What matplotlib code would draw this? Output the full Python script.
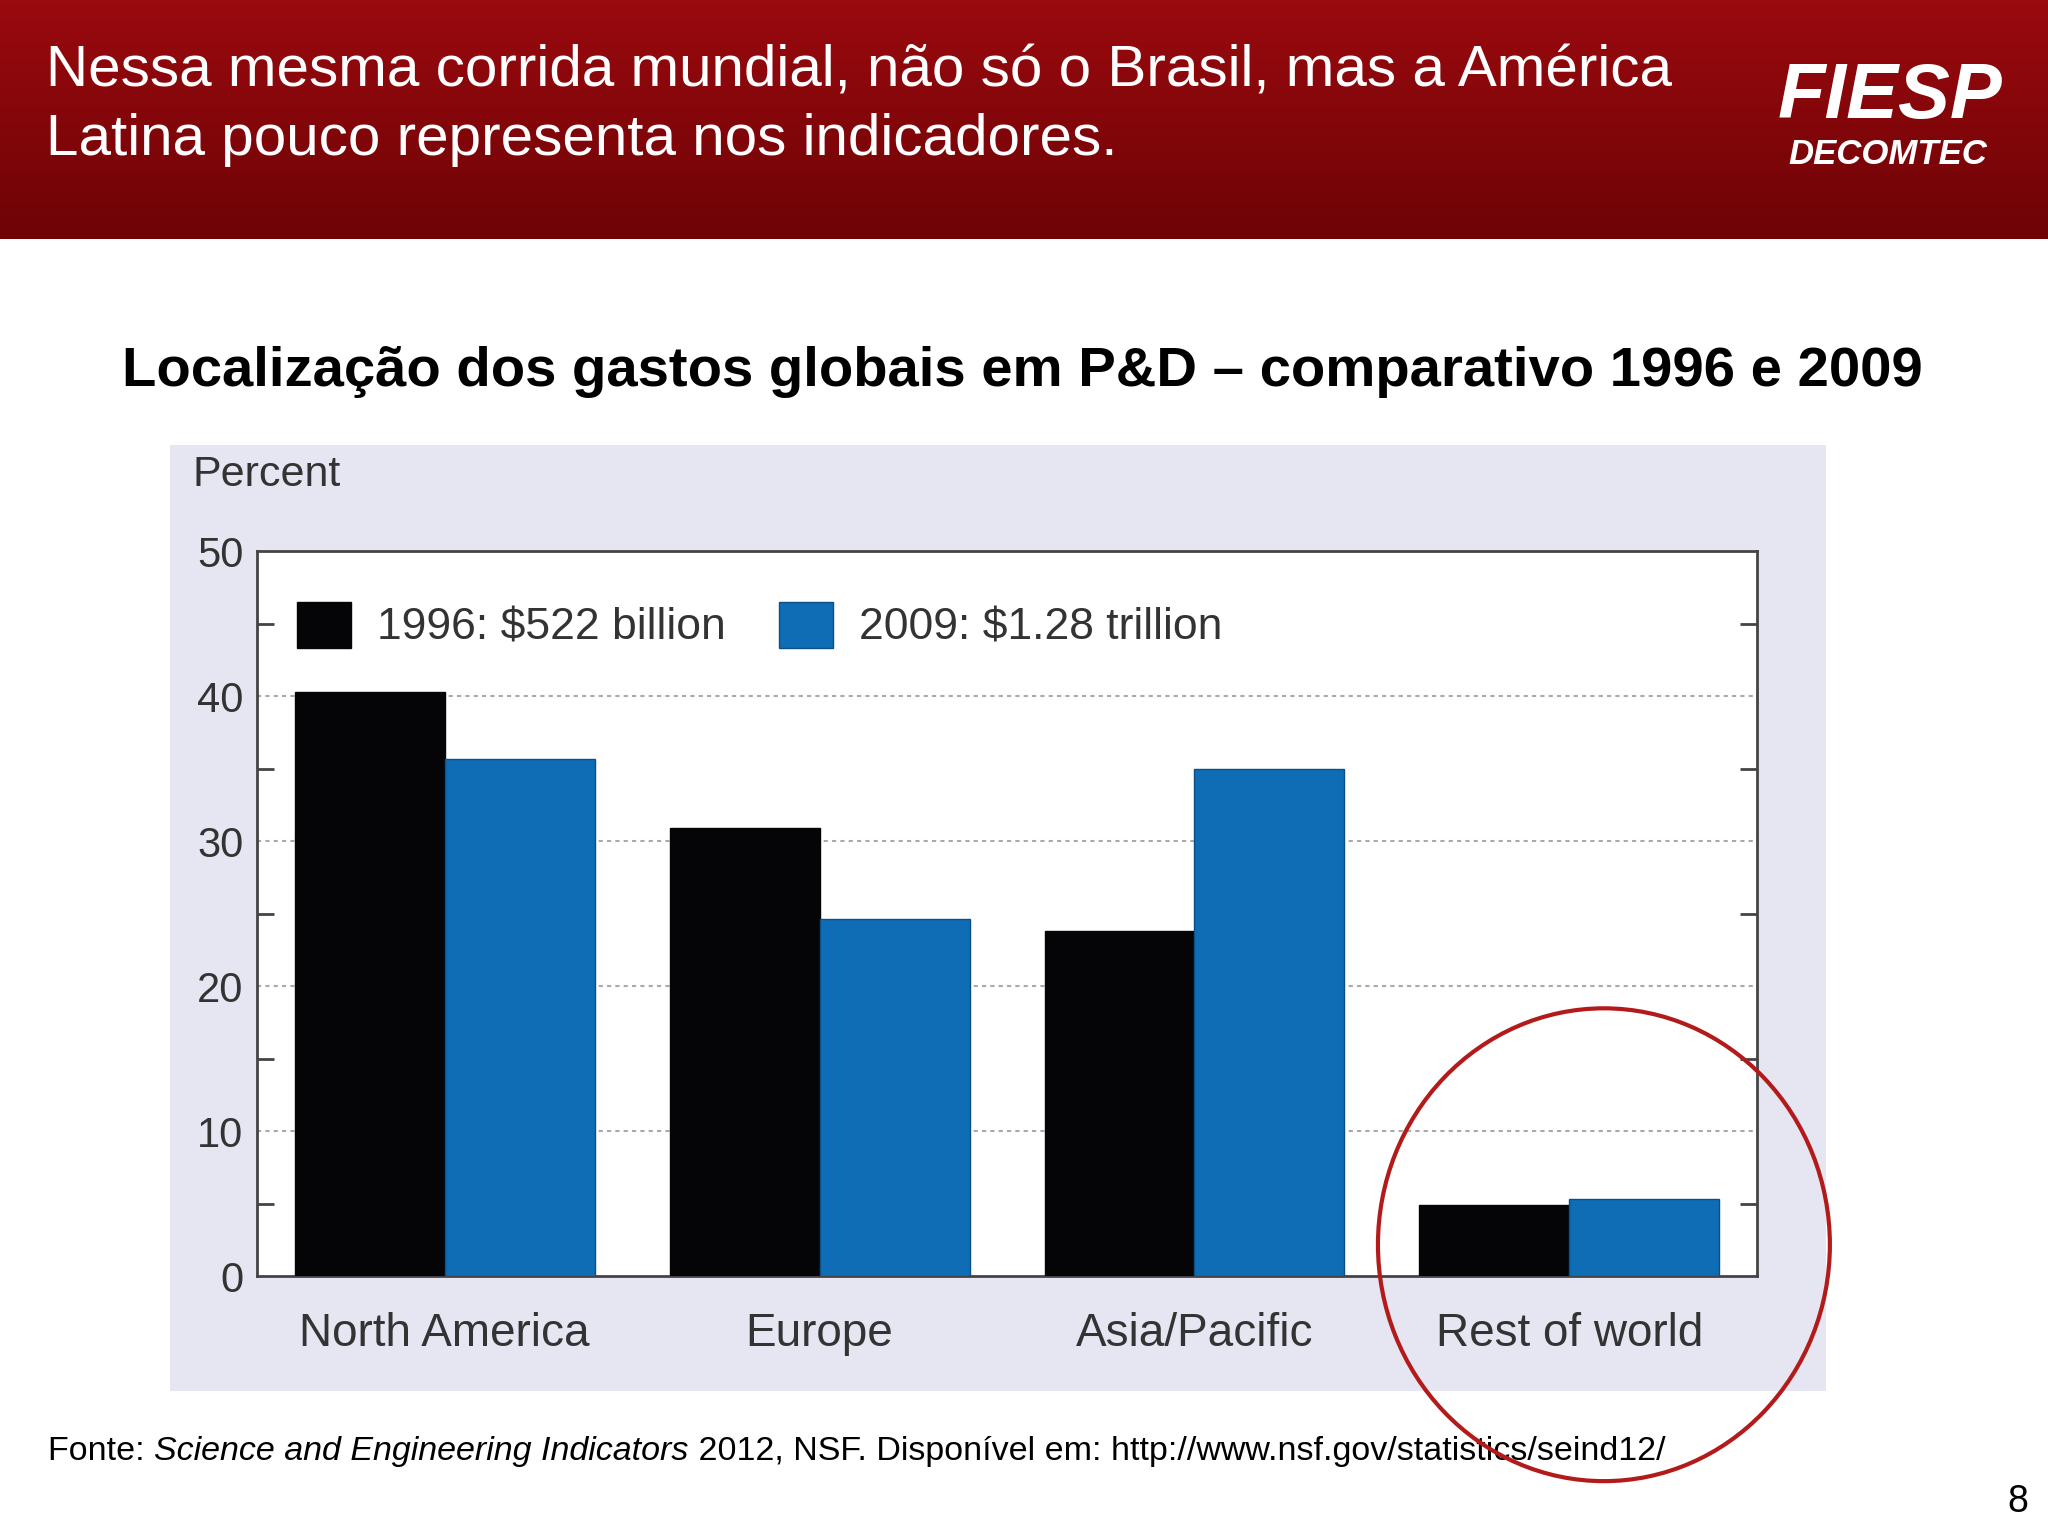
import matplotlib
matplotlib.use("Agg")
import matplotlib.pyplot as plt
import numpy as np
from matplotlib.patches import Ellipse
from matplotlib.colors import LinearSegmentedColormap
from matplotlib.offsetbox import TextArea, HPacker, AnchoredOffsetbox

plt.rcParams['font.family'] = ['Liberation Sans', 'DejaVu Sans']

categories = ["North America", "Europe", "Asia/Pacific", "Rest of world"]
v1996 = [40.3, 30.9, 23.8, 4.9]
v2009 = [35.7, 24.6, 35.0, 5.3]
label1996 = "1996: $522 billion"
label2009 = "2009: $1.28 trillion"

W, H = 1568, 1176
fig = plt.figure(figsize=(20.48, 15.36), dpi=100)
fig.patch.set_facecolor("white")

def fx(x): return x / W
def fy(y): return 1 - y / H

hdr = fig.add_axes([0, fy(183), 1, 183 / H], zorder=0)
grad = np.linspace(0, 1, 256).reshape(-1, 1)
cm = LinearSegmentedColormap.from_list("r", ["#9a0a0e", "#6e0306"])
hdr.imshow(grad, aspect="auto", cmap=cm, extent=[0, 1, 0, 1])
hdr.axis("off")
fig.text(fx(35), fy(55), "Nessa mesma corrida mundial, não só o Brasil, mas a América",
         color="white", fontsize=42, va="center")
fig.text(fx(35), fy(107), "Latina pouco representa nos indicadores.",
         color="white", fontsize=42, va="center")
fig.text(fx(1447), fy(75), "FIESP", color="white", fontsize=56, weight="bold",
         style="italic", ha="center", va="center")
fig.text(fx(1445), fy(118), "DECOMTEC", color="white", fontsize=25, weight="bold",
         style="italic", ha="center", va="center")

fig.text(fx(783), fy(285), "Localização dos gastos globais em P&D – comparativo 1996 e 2009",
         fontsize=40.5, weight="bold", ha="center", va="center")

bg = fig.add_axes([fx(130), fy(1065), (1398 - 130) / W, (1065 - 341) / H], zorder=1)
bg.set_facecolor("#e6e6f2")
bg.set_xticks([]); bg.set_yticks([])
for s in bg.spines.values(): s.set_visible(False)

ax = fig.add_axes([fx(197), fy(977), (1345 - 197) / W, (977 - 422) / H], zorder=2)
ax.set_facecolor("white")
x = np.arange(len(categories))
w = 0.4
ax.bar(x - w / 2, v1996, w, color="#050508", edgecolor="#050508", label=label1996, zorder=3)
ax.bar(x + w / 2, v2009, w, color="#0e6db5", edgecolor="#0a4f88", linewidth=1, label=label2009, zorder=3)
ax.set_xlim(-0.5, 3.5)
ax.set_ylim(0, 50)
ax.set_yticks([0, 10, 20, 30, 40, 50])
ax.set_yticks([5, 15, 25, 35, 45], minor=True)
ax.tick_params(axis="y", which="both", direction="in", length=12, width=2, right=True,
               labelsize=30, colors="#444444", labelcolor="#333333")
ax.tick_params(axis="y", which="major", length=0, pad=10)
ax.tick_params(axis="x", length=0, labelsize=33, pad=26, labelcolor="#333333")
ax.set_xticks(x)
ax.set_xticklabels(categories)
for y in [10, 20, 30, 40]:
    ax.axhline(y, color="#aaaaaa", linestyle=(0, (2, 2)), linewidth=1.5, zorder=1)
for s in ax.spines.values():
    s.set_color("#444444"); s.set_linewidth(2)
leg = ax.legend(loc="upper left", ncol=2, frameon=False, fontsize=32, handlelength=1.2,
                handleheight=1.2, columnspacing=1.2, handletextpad=0.6, bbox_to_anchor=(0.0, 0.985))
for t in leg.get_texts(): t.set_color("#333333")
fig.text(fx(147), fy(364), "Percent", fontsize=31, color="#333333", va="center", zorder=5)

fig.add_artist(Ellipse((fx(1228), fy(953)), 346 / W, 362 / H, transform=fig.transFigure,
                       facecolor="none", edgecolor="#b31b1b", linewidth=3, zorder=10))

parts = [TextArea("Fonte: ", textprops=dict(fontsize=24.5)),
         TextArea("Science and Engineering Indicators", textprops=dict(fontsize=24.5, style="italic")),
         TextArea(" 2012, NSF. Disponível em: http://www.nsf.gov/statistics/seind12/", textprops=dict(fontsize=24.5))]
box = HPacker(children=parts, pad=0, sep=0)
ab = AnchoredOffsetbox(loc="center left", child=box, frameon=False, bbox_to_anchor=(fx(37), fy(1111)),
                       bbox_transform=fig.transFigure, borderpad=0, pad=0)
ab.set_zorder(9)
fig.add_artist(ab)
fig.text(fx(1553), fy(1150), "8", fontsize=27, ha="right", va="center")

fig.savefig("out.png", dpi=100)
